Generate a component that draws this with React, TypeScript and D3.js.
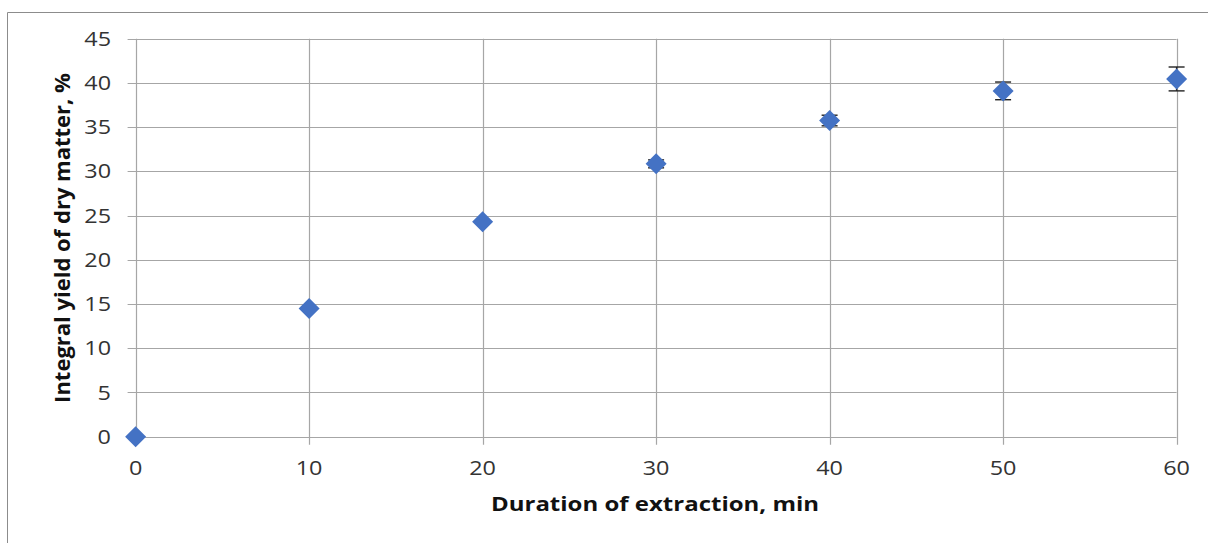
import React from "react";
import * as d3 from "d3";

// Extraction time (min), integral dry-matter yield (%) and its error
const durations = [0, 10, 20, 30, 40, 50, 60];
const yields = [0, 14.5, 24.3, 30.85, 35.75, 39.1, 40.45];
const errors = [0, 0, 0, 0.45, 0.6, 1.0, 1.35];
const xTicks = [0, 10, 20, 30, 40, 50, 60];
const yTicks = [0, 5, 10, 15, 20, 25, 30, 35, 40, 45];

const W = 1208;
const H = 543;
const FONT = "'Open Sans', 'DejaVu Sans', sans-serif";
// horizontal text is drawn slightly widened
const SX = 1.2;

export default function App() {
  const x = d3.scaleLinear().domain([0, 60]).range([135.6, 1176.6]);
  const y = d3.scaleLinear().domain([0, 45]).range([436.7, 38.7]);
  const grid = "#a6a6a6";
  const marker = "#4472c4";
  const r = 10.5;
  const cap = 8;

  return (
    <svg
      width={W}
      height={H}
      style={{ position: "absolute", left: 0, top: 0, background: "#fff" }}
      fontFamily={FONT}
    >
      {/* chart frame */}
      <path d={`M7.5,${H} V12.5 H${W}`} fill="none" stroke="#8c8c8c" strokeWidth={1} />

      {/* horizontal gridlines with left tick marks */}
      {yTicks.map((t) => (
        <line
          key={`h${t}`}
          x1={x(0) - 8}
          x2={x(60)}
          y1={Math.round(y(t)) + 0.5}
          y2={Math.round(y(t)) + 0.5}
          stroke={grid}
          strokeWidth={1.2}
        />
      ))}
      {/* vertical gridlines with bottom tick marks */}
      {xTicks.map((t) => (
        <line
          key={`v${t}`}
          x1={Math.round(x(t)) + 0.5}
          x2={Math.round(x(t)) + 0.5}
          y1={y(45)}
          y2={y(0) + 8}
          stroke={grid}
          strokeWidth={1.2}
        />
      ))}

      {/* y tick labels */}
      {yTicks.map((t) => (
        <text
          key={`yl${t}`}
          transform={`translate(111,${y(t)}) scale(${SX},1)`}
          dy="0.36em"
          textAnchor="end"
          fontSize={19.5}
          fill="#333"
        >
          {t}
        </text>
      ))}
      {/* x tick labels */}
      {xTicks.map((t) => (
        <text
          key={`xl${t}`}
          transform={`translate(${x(t)},468) scale(${SX},1)`}
          dy="0.36em"
          textAnchor="middle"
          fontSize={19.5}
          fill="#333"
        >
          {t}
        </text>
      ))}

      {/* error bars */}
      {durations.map((d, i) =>
        errors[i] > 0 ? (
          <g key={`e${d}`} stroke="#222" strokeWidth={1.4}>
            <line x1={x(d)} x2={x(d)} y1={y(yields[i] - errors[i])} y2={y(yields[i] + errors[i])} />
            <line x1={x(d) - cap} x2={x(d) + cap} y1={y(yields[i] + errors[i])} y2={y(yields[i] + errors[i])} />
            <line x1={x(d) - cap} x2={x(d) + cap} y1={y(yields[i] - errors[i])} y2={y(yields[i] - errors[i])} />
          </g>
        ) : null
      )}

      {/* diamond markers */}
      {durations.map((d, i) => {
        const cx = x(d);
        const cy = y(yields[i]);
        return (
          <path
            key={`m${d}`}
            d={`M${cx},${cy - r} L${cx + r},${cy} L${cx},${cy + r} L${cx - r},${cy} Z`}
            fill={marker}
          />
        );
      })}

      {/* axis titles */}
      <text
        transform={`translate(655,504) scale(${SX},1)`}
        dy="0.35em"
        textAnchor="middle"
        fontSize={20}
        fontWeight="bold"
        fill="#111"
      >
        Duration of extraction, min
      </text>
      <text
        transform={`translate(70,238) rotate(-90)`}
        textAnchor="middle"
        fontSize={22}
        fontWeight="bold"
        fill="#111"
      >
        Integral yield of dry matter, %
      </text>
    </svg>
  );
}
